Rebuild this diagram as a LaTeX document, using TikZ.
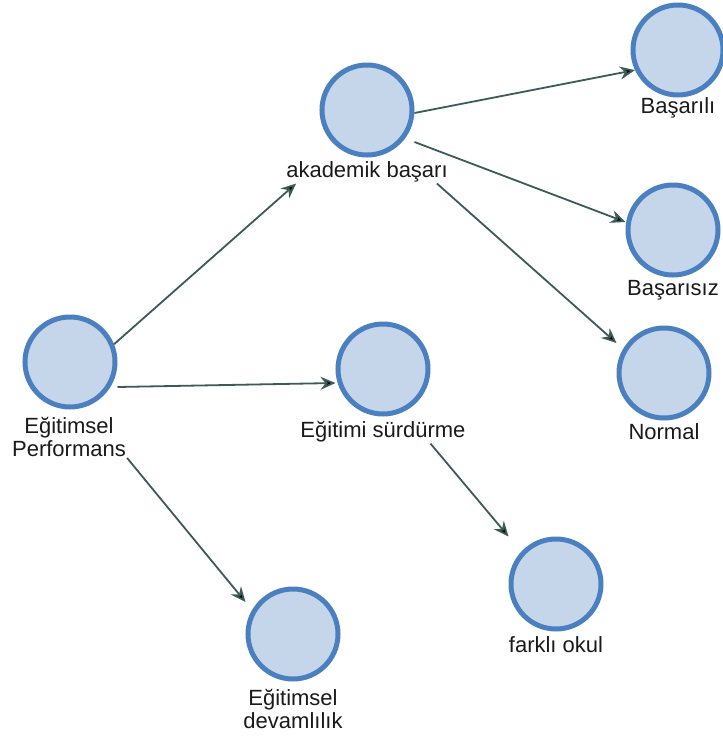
\documentclass[tikz,border=0pt]{standalone}
\usepackage{fontspec}
\setmainfont{Liberation Sans}
\usetikzlibrary{arrows.meta}
\definecolor{nodefill}{HTML}{C6D6EA}
\definecolor{nodeline}{HTML}{4A80BF}
\definecolor{linkline}{HTML}{3A5B57}
\definecolor{labeltext}{HTML}{1A1A1A}

\begin{document}
\begin{tikzpicture}[x=1pt, y=-1pt,
    state/.style={circle, draw=nodeline, fill=nodefill, line width=5pt, minimum size=90pt, inner sep=0pt},
    tag/.style={text=labeltext, font=\fontsize{22}{23}\selectfont, inner sep=1pt, align=center},
    link/.style={draw=linkline, line width=1.8pt},
    >={Stealth[length=15pt, width=13pt, inset=5pt]}]
    \useasboundingbox (0, 0) rectangle (723, 737);

    \node[state] (ep) at (70, 362) {};
    \node[state] (ak) at (367, 110) {};
    \node[state] (es) at (383, 369) {};
    \node[state] (ed) at (293, 634) {};
    \node[state] (bl) at (678, 50) {};
    \node[state] (bs) at (673, 230) {};
    \node[state] (no) at (664, 373) {};
    \node[state] (fo) at (556, 584) {};

    \node[tag] (eplbl) at (69, 437) {Eğitimsel\\Performans};
    \node[tag] (aklbl) at (367, 172) {akademik başarı};
    \node[tag] (eslbl) at (383, 432) {Eğitimi sürdürme};
    \node[tag] (edlbl) at (293, 709) {Eğitimsel\\devamlılık};
    \node[tag] (bllbl) at (678, 108) {Başarılı};
    \node[tag] (bslbl) at (673, 290) {Başarısız};
    \node[tag] (nolbl) at (664, 432) {Normal};
    \node[tag] (folbl) at (556, 645) {farklı okul};

    \draw[link]
    (ep.22) edge[->] ([xshift=11pt]aklbl.south west)
    ([yshift=-25pt]ep.east) edge[->] ([yshift=-14pt]es.west)
    (eplbl.south east) edge[->] ([yshift=32pt]ed.west)
    ([yshift=-3pt]ak.east) edge[->] (bl.205)
    ([yshift=-32pt]ak.east) edge[->] ([yshift=8pt]bs.west)
    ([xshift=-12pt]aklbl.south east) edge[->] ([yshift=30pt]no.west)
    (es.east |- eslbl.south) edge[->] (fo.west |- fo.north);
\end{tikzpicture}
\end{document}
